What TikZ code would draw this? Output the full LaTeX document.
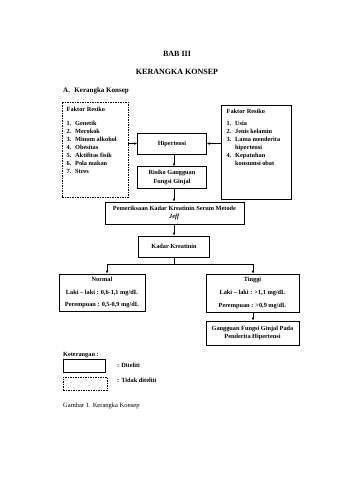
\documentclass[tikz,border=0pt]{standalone}
\usepackage{fontspec}
\setmainfont{Liberation Serif}
\usetikzlibrary{arrows.meta}
\newcommand\boxfont{\fontsize{6.3}{8}\selectfont\bfseries}
\newcommand\itemnum[1]{\makebox[8.5pt][l]{#1}}
\tikzset{
  sbox/.style={draw, line width=0.6pt, inner sep=0pt, align=center, font=\boxfont},
  dbox/.style={draw, line width=0.6pt, inner sep=0pt, dash pattern=on 1.5pt off 1pt},
  arr/.style={line width=0.6pt, -{Latex[length=3pt,width=2.6pt]}},
  ln/.style={line width=0.6pt},
  lst/.style={anchor=north west, inner sep=0pt, align=left, font=\boxfont},
  ttl/.style={inner sep=0pt, font=\fontsize{8}{10}\selectfont\bfseries},
  lbl/.style={anchor=west, inner sep=0pt, font=\boxfont}
}
\begin{document}
\begin{tikzpicture}[x=1pt,y=-1pt]
\useasboundingbox[fill=white] (0,0) rectangle (339,480);
% titles
\node[ttl] (bab) at (177,54) {BAB III};
\node[ttl] (kk) at (177,72) {KERANGKA KONSEP};
\node[lbl, font=\fontsize{7}{9}\selectfont\bfseries] (seca) at (63,91) {A.\hspace{4.5pt}Kerangka Konsep};
% risk factor boxes
\node[dbox, minimum width=66pt, minimum height=95pt] (fr1) at (95,149.5) {};
\node[lst] (fr1t) at (66.5,106.8) {Faktor Resiko\\[6pt]
\itemnum{1.}Genetik\\
\itemnum{2.}Merokok\\
\itemnum{3.}Minum alkohol\\
\itemnum{4.}Obesitas\\
\itemnum{5.}Aktifitas fisik\\
\itemnum{6.}Pola makan\\
\itemnum{7.}Stres};
\node[sbox, minimum width=70pt, minimum height=94pt] (fr2) at (256,152) {};
\node[lst] (fr2t) at (226.5,108.8) {Faktor Resiko\\[4pt]
\itemnum{1.}Usia\\
\itemnum{2.}Jenis kelamin\\
\itemnum{3.}Lama menderita\\
\itemnum{}hipertensi\\
\itemnum{4.}Kepatuhan\\
\itemnum{}konsumsi obat};
% central chain
\node[sbox, minimum width=69pt, minimum height=21pt] (hip) at (172,143.5) {Hipertensi};
\node[sbox, minimum width=69pt, minimum height=21.5pt, font=\fontsize{6.3}{8.5}\selectfont\bfseries] (ris) at (172,177.5) {Risiko Gangguan\\Fungsi Ginjal};
\node[sbox, minimum width=139pt, minimum height=22pt, font=\fontsize{6.3}{8.5}\selectfont\bfseries] (pem) at (174.5,213) {Pemeriksaan Kadar Kreatinin Serum Metode\\\textit{Jeff}};
\node[sbox, minimum width=71pt, minimum height=21pt] (kad) at (174,246.5) {Kadar Kreatinin};
\node[sbox, minimum width=86pt, minimum height=37pt] (nor) at (102,292.5) {Normal\\[5pt]Laki -- laki : 0,6-1,1 mg/dL\\[4.5pt]Perempuan : 0,5-0,9 mg/dL};
\node[sbox, minimum width=93pt, minimum height=38pt] (tin) at (252.5,293) {Tinggi\\[5pt]Laki -- laki : >1,1 mg/dL\\[4.5pt]Perempuan : >0,9 mg/dL};
\node[sbox, minimum width=93pt, minimum height=24pt] (gan) at (252.5,333) {Gangguan Fungsi Ginjal Pada\\Penderita Hipertensi};
% connectors
\coordinate (sm) at (174,264);
\coordinate (sl) at (107,264);
\coordinate (sr) at (253,264);
\draw[arr] (fr1.east |- hip) -- (hip.west);
\draw[arr] (fr2.west |- hip) -- (hip.east);
\draw[arr] (hip.south -| kad) -- (ris.north -| kad);
\draw[arr] (ris.south -| kad) -- (pem.north -| kad);
\draw[arr] (pem.south -| kad) -- (kad.north);
\draw[ln] (kad.south) -- (sm);
\draw[ln] (sl) -- (sr);
\draw[arr] (sl) -- (sl |- nor.north);
\draw[arr] (sr) -- (sr |- tin.north);
\draw[arr] (tin.south -| sr) -- (gan.north -| sr);
% legend
\node[lbl] (ket) at (63,355) {Keterangan :};
\node[sbox, minimum width=42pt, minimum height=13pt] (lg1) at (84,365.5) {};
\node[lbl] (lg1t) at (117,365.5) {: Diteliti};
\node[dbox, minimum width=44pt, minimum height=13pt] (lg2) at (85,383.5) {};
\node[lbl] (lg2t) at (117,380.5) {: Tidak diteliti};
\node[lbl, font=\fontsize{6.5}{8}\selectfont] (cap) at (63,406) {Gambar 1. Kerangka Konsep};
\end{tikzpicture}
\end{document}
